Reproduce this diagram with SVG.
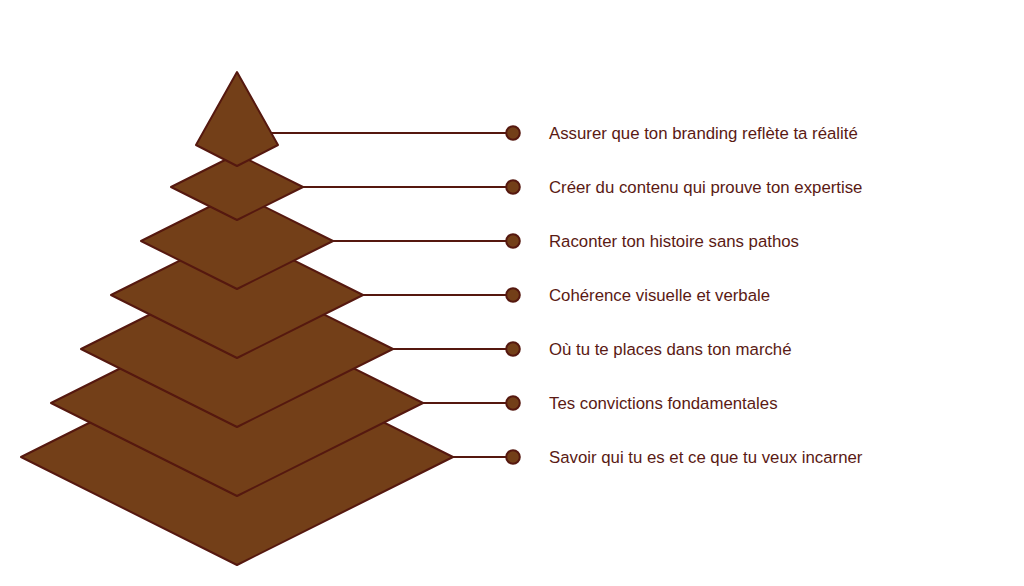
<svg xmlns="http://www.w3.org/2000/svg" width="1024" height="586" viewBox="0 0 1024 586">
<style>
.layer{fill:#733f18;stroke:#55180f;stroke-width:2;stroke-linejoin:round}
.conn line{stroke:#55180f;stroke-width:2}
.conn circle{fill:#733f18;stroke:#55180f;stroke-width:2}
.lbl{font-family:"Liberation Sans",Arial,sans-serif;font-size:16.8px;fill:#5a1a14}
</style>
<rect width="1024" height="586" fill="#ffffff"/>
<g class="conn" id="connectors">
<line x1="271" y1="133" x2="513" y2="133"/><circle cx="513" cy="133" r="6.8"/>
<line x1="300" y1="187" x2="513" y2="187"/><circle cx="513" cy="187" r="6.8"/>
<line x1="330" y1="241" x2="513" y2="241"/><circle cx="513" cy="241" r="6.8"/>
<line x1="360" y1="295" x2="513" y2="295"/><circle cx="513" cy="295" r="6.8"/>
<line x1="390" y1="349" x2="513" y2="349"/><circle cx="513" cy="349" r="6.8"/>
<line x1="420" y1="403" x2="513" y2="403"/><circle cx="513" cy="403" r="6.8"/>
<line x1="450" y1="457" x2="513" y2="457"/><circle cx="513" cy="457" r="6.8"/>
</g>
<g id="layer7"><polygon class="layer" points="21,457 237,349 453,457 237,565"/><text class="lbl" x="549" y="463">Savoir qui tu es et ce que tu veux incarner</text></g>
<g id="layer6"><polygon class="layer" points="51,403 237,310 423,403 237,496"/><text class="lbl" x="549" y="409">Tes convictions fondamentales</text></g>
<g id="layer5"><polygon class="layer" points="81,349 237,271 393,349 237,427"/><text class="lbl" x="549" y="355">Où tu te places dans ton marché</text></g>
<g id="layer4"><polygon class="layer" points="111,295 237,232 363,295 237,358"/><text class="lbl" x="549" y="301">Cohérence visuelle et verbale</text></g>
<g id="layer3"><polygon class="layer" points="141,241 237,193 333,241 237,289"/><text class="lbl" x="549" y="247">Raconter ton histoire sans pathos</text></g>
<g id="layer2"><polygon class="layer" points="171,187 237,154 303,187 237,220"/><text class="lbl" x="549" y="193">Créer du contenu qui prouve ton expertise</text></g>
<g id="layer1"><polygon class="layer" points="237,72 278,145 237,166 196,145"/><text class="lbl" x="549" y="139">Assurer que ton branding reflète ta réalité</text></g>
</svg>
